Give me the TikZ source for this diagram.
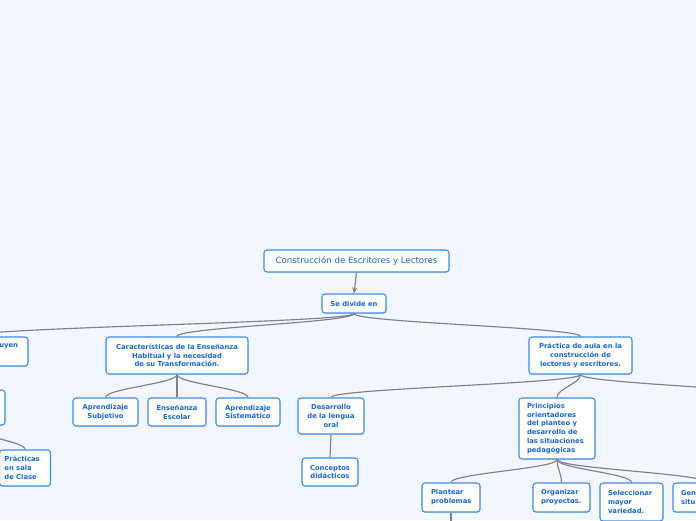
\documentclass[tikz,border=0pt]{standalone}
\usepackage{fontspec}
\setmainfont{DejaVu Sans}
\newfontfamily\titlefont{DejaVu Sans}
\usetikzlibrary{shadows,arrows.meta}
\definecolor{bgc}{RGB}{242,246,254}
\definecolor{txtc}{RGB}{24,104,218}
\definecolor{brdc}{RGB}{62,140,228}
\definecolor{linec}{RGB}{128,128,138}
\tikzset{
  box/.style={draw=brdc, fill=white, line width=1.1pt, rounded corners=3pt,
    inner sep=0pt, align=center, text=txtc,
    font=\fontsize{6.8}{8.8}\selectfont\bfseries,
    drop shadow={shadow xshift=0.6pt, shadow yshift=-0.9pt, opacity=0.22}},
  titlebox/.style={box, font=\titlefont\fontsize{8.6}{10}\selectfont},
  conn/.style={draw=linec, line width=1.15pt},
  curv/.style={out=-90, in=90, out distance=9pt, in distance=9pt}
}
\begin{document}
\begin{tikzpicture}[x=1pt,y=1pt]
\useasboundingbox (0,0) rectangle (696,-520);
\fill[bgc] (0,0) rectangle (696,-520);
\clip (0,0) rectangle (696,-520);

% nodes
\node[titlebox, minimum width=185, minimum height=22] (root) at (356.5,-261) {Construcción de Escritores y Lectores};
\node[box, minimum width=64, minimum height=19] (sdiv) at (354,-303.5) {Se divide en};

\node[box, minimum width=116, minimum height=29, text width=96, align=right] (uy) at (-30,-351.5) {uyen\\\strut};
\node[box, minimum width=142, minimum height=37] (car) at (177,-355.5) {Características de la Enseñanza\\Habitual y la necesidad\\de su Transformación.};
\node[box, minimum width=103, minimum height=37] (prac) at (580.5,-355.5) {Práctica de aula en la\\construcción de\\lectores y escritores.};

\node[box, minimum width=85, minimum height=35] (lb2) at (-37.5,-407.5) {};
\node[box, minimum width=51, minimum height=36, text width=41, align=left] (prs) at (25,-468) {Prácticas\\en sala\\de Clase};

\node[box, minimum width=65, minimum height=28] (as) at (105.5,-412) {Aprendizaje\\Subjetivo};
\node[box, minimum width=58, minimum height=28] (ee) at (177,-412) {Enseñanza\\Escolar};
\node[box, minimum width=64, minimum height=28] (asi) at (248,-412) {Aprendizaje\\Sistemático};

\node[box, minimum width=66, minimum height=36] (dlo) at (331,-416) {Desarrollo\\de la lengua\\oral};
\node[box, minimum width=56, minimum height=28] (cd) at (330,-472) {Conceptos\\didácticos};

\node[box, minimum width=76, minimum height=61, text width=60, align=left] (po) at (557,-428.5) {Principios\\orientadores\\del planteo y\\desarrollo de\\las situaciones\\pedagógicas};

\node[box, minimum width=58, minimum height=29, text width=40, align=left] (pp) at (451,-497.5) {Plantear\\problemas};
\node[box, minimum width=57, minimum height=29, text width=41, align=left] (op) at (561.5,-497.5) {Organizar\\proyectos.};
\node[box, minimum width=63, minimum height=38, text width=47, align=left] (smv) at (631.5,-502) {Seleccionar\\mayor\\variedad.};
\node[box, minimum width=67, minimum height=29, text width=51, align=left] (gen) at (706.5,-497.5) {Gen\\situ};

\coordinate (offr) at (790,-398);
\coordinate (ppchild) at (451,-560);

% connectors
\draw[conn, -{Stealth[length=6pt,width=5pt]}] (root.south) -- (sdiv.north);
\draw[conn] (sdiv.south) to[curv] (uy.north);
\draw[conn] (sdiv.south) to[curv] (car.north);
\draw[conn] (sdiv.south) to[curv] (prac.north);

\draw[conn] (lb2.south) to[curv] (prs.north);

\draw[conn] (car.south) to[curv] (as.north);
\draw[conn] (car.south) -- (ee.north);
\draw[conn] (car.south) to[curv] (asi.north);

\draw[conn] (prac.south) to[curv] (dlo.north);
\draw[conn] (prac.south) to[curv] (po.north);
\draw[conn] (prac.south) to[curv] (offr);

\draw[conn] (dlo.south) -- (cd.north);

\draw[conn] (po.south) to[curv] (pp.north);
\draw[conn] (po.south) to[curv] (op.north);
\draw[conn] (po.south) to[curv] (smv.north);
\draw[conn] (po.south) to[curv] (gen.north);

\draw[conn] (pp.south) -- (ppchild);
\end{tikzpicture}
\end{document}
